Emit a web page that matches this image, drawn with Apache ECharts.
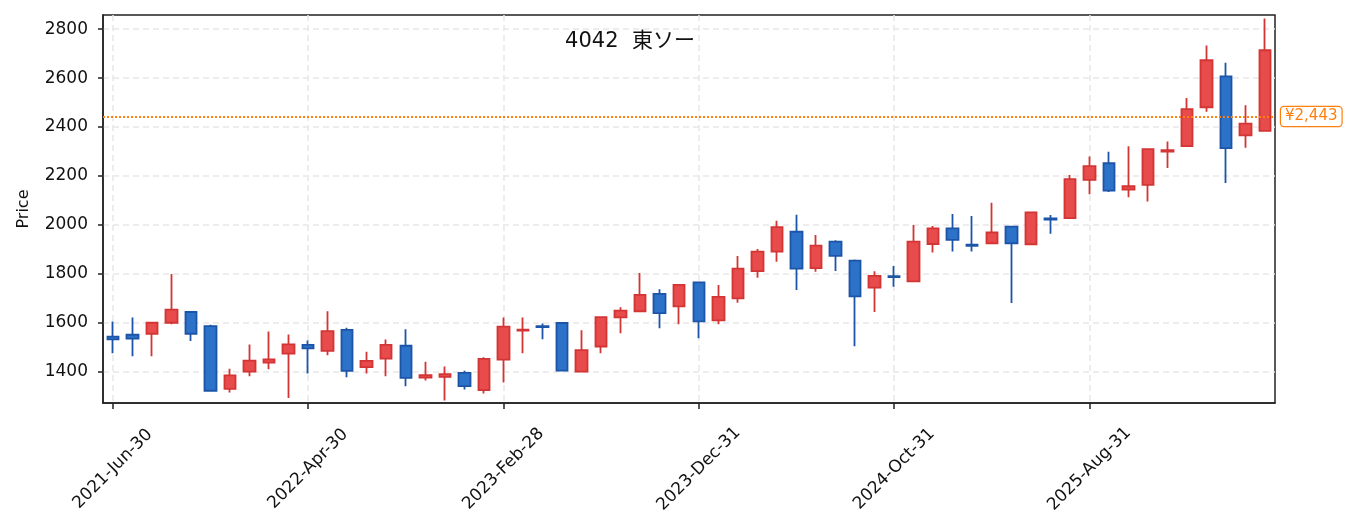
<!DOCTYPE html>
<html>
<head>
<meta charset="utf-8">
<script src="https://cdn.jsdelivr.net/npm/echarts@6/dist/echarts.min.js"></script>
<style>
html,body{margin:0;padding:0;background:#fff;}
#chart{width:1353px;height:530px;}
</style>
</head>
<body>
<div id="chart"></div>
<script>
const dates = ['2021-Jun-30','2021-Jul-31','2021-Aug-31','2021-Sep-30','2021-Oct-31','2021-Nov-30','2021-Dec-31',
'2022-Jan-31','2022-Feb-28','2022-Mar-31','2022-Apr-30','2022-May-31','2022-Jun-30','2022-Jul-31','2022-Aug-31','2022-Sep-30','2022-Oct-31','2022-Nov-30','2022-Dec-31',
'2023-Jan-31','2023-Feb-28','2023-Mar-31','2023-Apr-30','2023-May-31','2023-Jun-30','2023-Jul-31','2023-Aug-31','2023-Sep-30','2023-Oct-31','2023-Nov-30','2023-Dec-31',
'2024-Jan-31','2024-Feb-29','2024-Mar-31','2024-Apr-30','2024-May-31','2024-Jun-30','2024-Jul-31','2024-Aug-31','2024-Sep-30','2024-Oct-31','2024-Nov-30','2024-Dec-31',
'2025-Jan-31','2025-Feb-28','2025-Mar-31','2025-Apr-30','2025-May-31','2025-Jun-30','2025-Jul-31','2025-Aug-31','2025-Sep-30','2025-Oct-31','2025-Nov-30','2025-Dec-31',
'2026-Jan-31','2026-Feb-28','2026-Mar-31','2026-Apr-30','2026-May-31'];

const openP  = [1543,1551,1555,1600,1644,1586,1330,1400,1437,1474,1510,1485,1571,1419,1453,1506,1376,1379,1395,1325,
                1449,1568,1586,1599,1400,1503,1622,1647,1718,1667,1765,1610,1700,1811,1891,1972,1823,1932,1854,1744,
                1791,1769,1922,1986,1919,1925,1993,1921,2027,2028,2184,2252,2144,2164,2300,2322,2481,2607,2366,2384];
const closeP = [1532,1535,1600,1654,1555,1322,1385,1445,1450,1512,1495,1566,1403,1444,1510,1375,1386,1390,1341,1452,
                1584,1572,1582,1404,1488,1623,1650,1714,1639,1755,1606,1706,1821,1891,1991,1821,1915,1873,1708,1792,
                1787,1932,1986,1939,1914,1969,1925,2051,2022,2187,2240,2140,2158,2310,2306,2473,2673,2314,2414,2714];
const lowP   = [1475,1463,1463,1594,1525,1322,1315,1381,1410,1292,1393,1467,1377,1393,1381,1340,1364,1282,1327,1311,
                1356,1475,1533,1404,1398,1475,1557,1647,1578,1594,1537,1594,1682,1784,1849,1734,1808,1812,1504,1644,
                1747,1766,1887,1891,1891,1922,1681,1917,1964,2024,2125,2135,2113,2096,2233,2322,2463,2171,2315,2384];
const highP  = [1605,1622,1600,1799,1644,1592,1412,1511,1564,1552,1527,1647,1580,1482,1532,1573,1441,1421,1404,1459,
                1622,1622,1597,1599,1569,1627,1663,1803,1737,1755,1765,1754,1873,1902,2017,2041,1959,1937,1859,1811,
                1832,2000,1995,2045,2036,2091,1993,2051,2040,2204,2280,2299,2321,2313,2341,2519,2733,2663,2489,2844];
const yTicks = [1400,1600,1800,2000,2200,2400,2600,2800];
const lastPrice = 2443;
const titleText = '4042  東ソー';

const ohlc = dates.map((d, i) => [openP[i], closeP[i], lowP[i], highP[i]]);
const FONT = '"DejaVu Sans", "Noto Sans CJK JP", sans-serif';

const chart = echarts.init(document.getElementById('chart'), null, {renderer: 'canvas'});
chart.setOption({
  animation: false,
  backgroundColor: '#ffffff',
  textStyle: {fontFamily: FONT},
  graphic: [{
    type: 'text', x: 630, y: 42,
    style: {text: titleText, fontSize: 21, fontFamily: FONT, fill: '#111', align: 'center', verticalAlign: 'middle'}
  }],
  grid: {left: 103, right: 78, top: 15, bottom: 127, show: true, borderColor: '#222', borderWidth: 1.5, containLabel: false},
  xAxis: {
    type: 'category', data: dates, boundaryGap: true,
    axisLine: {show: true, lineStyle: {color: '#222', width: 1.5}},
    axisTick: {show: true, interval: 9, alignWithLabel: true, length: 6, lineStyle: {color: '#222', width: 1.5}},
    axisLabel: {interval: 9, rotate: 45, align: 'center', verticalAlign: 'middle', margin: 66,
      fontSize: 17, color: '#111', fontFamily: FONT},
    splitLine: {show: true, interval: 9, alignWithLabel: true, lineStyle: {color: '#e8e8e8', type: [6, 4], width: 1.5}}
  },
  yAxis: {
    type: 'value', min: 1272, max: 2858, scale: true,
    name: 'Price', nameLocation: 'middle', nameGap: 71, nameRotate: 90,
    nameTextStyle: {fontSize: 16, color: '#111', fontFamily: FONT},
    axisLine: {show: true, lineStyle: {color: '#222', width: 1.5}},
    axisTick: {show: true, length: 5, customValues: yTicks, lineStyle: {color: '#222', width: 1.5}},
    axisLabel: {customValues: yTicks, fontSize: 17, color: '#111', margin: 15, fontFamily: FONT,
      formatter: v => String(v)},
    minInterval: 200, maxInterval: 200,
    splitLine: {show: true, lineStyle: {color: '#e8e8e8', type: [6, 4], width: 1.5}}
  },
  series: [{
    type: 'candlestick',
    data: ohlc,
    barWidth: 12,
    itemStyle: {
      color: '#e84b4b', color0: '#2c72c8',
      borderColor: '#d33434', borderColor0: '#1c55a8', borderWidth: 1.8
    },
    markLine: {
      silent: true, symbol: 'none',
      data: [{yAxis: lastPrice}],
      lineStyle: {color: '#ff7f0e', type: 'dotted', width: 2},
      label: {
        show: true, position: 'end', distance: 6,
        formatter: '¥' + lastPrice.toLocaleString('en-US'),
        color: '#ff7f0e', fontSize: 15, fontFamily: FONT,
        backgroundColor: '#ffffff', borderColor: '#ff7f0e', borderWidth: 1.2, borderRadius: 3,
        padding: [2, 4]
      }
    }
  }]
});
</script>
</body>
</html>
